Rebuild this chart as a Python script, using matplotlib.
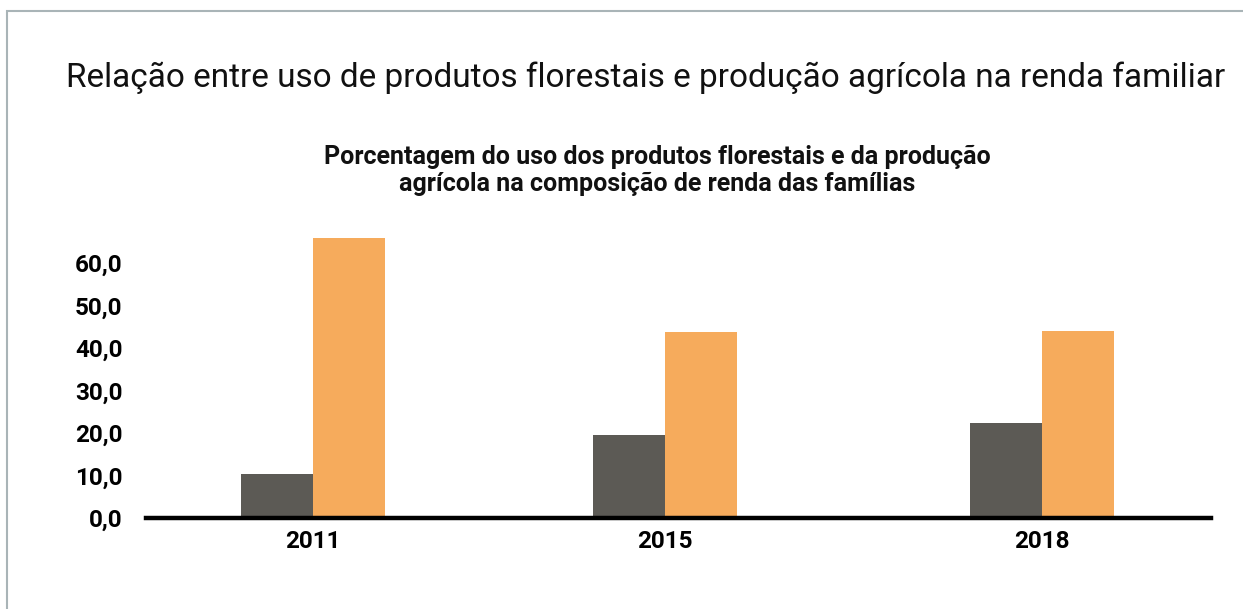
import matplotlib
matplotlib.use("Agg")
import matplotlib.pyplot as plt
from matplotlib.patches import Rectangle

years = ["2011", "2015", "2018"]
florestais = [10.3, 19.5, 22.3]
agricola = [66.0, 43.8, 44.0]
yticks = [0, 10, 20, 30, 40, 50, 60]
ytick_labels = ["0,0", "10,0", "20,0", "30,0", "40,0", "50,0", "60,0"]

title = "Relação entre uso de produtos florestais e produção agrícola na renda familiar"
subtitle = "Porcentagem do uso dos produtos florestais e da produção\nagrícola na composição de renda das famílias"

W, H = 1243, 609
fig = plt.figure(figsize=(W / 100, H / 100), dpi=100)
fig.patch.set_facecolor("white")

fig.add_artist(Rectangle((6.5 / W, -0.1), 2.0, 1.0 - 10.5 / H + 0.1, transform=fig.transFigure,
                         fill=False, edgecolor="#a9b4b7", linewidth=1.5))

fig.text(66 / W, 1 - 78 / H, title, ha="left", va="center", fontsize=24.0,
         family="Roboto", fontweight="normal", color="#111111")
fig.text(657 / W, 1 - 170 / H, subtitle, ha="center", va="center", fontsize=18,
         family="Roboto", fontweight="bold", color="#111111", linespacing=1.15)

ax = fig.add_axes([146 / W, 1 - 518 / H, (1211 - 146) / W, (518 - 220.5) / H])
x_pos = [0.0, 0.9657, 2.0]
bw = 0.1975
ax.bar([x - bw / 2 for x in x_pos], florestais, width=bw, color="#5c5a55", zorder=2)
ax.bar([x + bw / 2 for x in x_pos], agricola, width=bw, color="#f6ab5c", zorder=2)

ax.set_xlim(-0.458, 2.4636)
ax.set_ylim(0, 70)
ax.set_yticks(yticks)
ax.set_yticklabels(ytick_labels, fontdict={"family": "Roboto", "weight": "bold", "size": 17.5})
ax.set_xticks(x_pos)
ax.set_xticklabels(years, fontdict={"family": "Roboto", "weight": "bold", "size": 17.5})
ax.tick_params(axis="y", length=0, pad=17)
ax.tick_params(axis="x", length=0, pad=9)
for s in ["top", "right", "left"]:
    ax.spines[s].set_visible(False)
ax.spines["bottom"].set_linewidth(3.2)
ax.spines["bottom"].set_color("black")
ax.spines["bottom"].set_zorder(3)

fig.savefig("out.png", dpi=100)
